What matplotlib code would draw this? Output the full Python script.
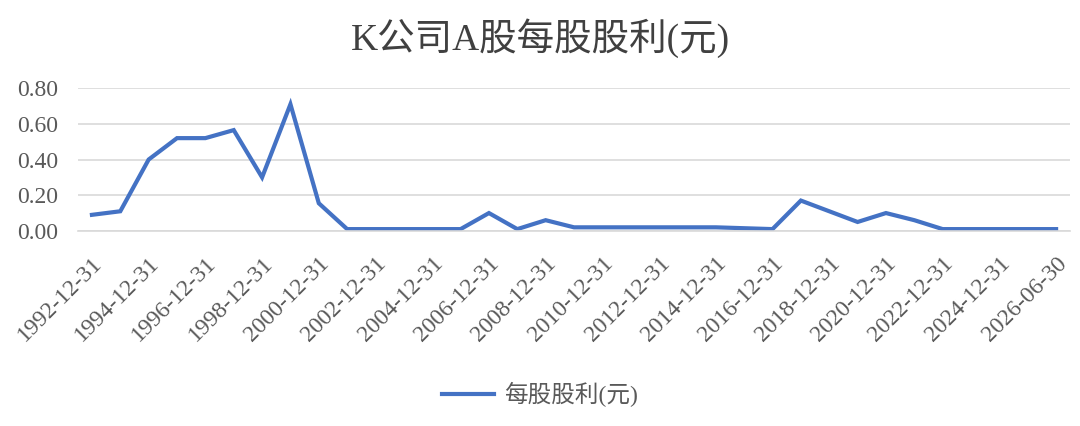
import matplotlib.pyplot as plt
import numpy as np

plt.rcParams['font.family'] = ['Liberation Serif', 'Noto Sans CJK SC']

# 1992-12-31 .. 2025-12-31 yearly, then 2026-06-30
dates = ['%d-12-31' % y for y in range(1992, 2026)] + ['2026-06-30']
dps = [0.09, 0.11, 0.40, 0.52, 0.52, 0.565, 0.30, 0.71, 0.155, 0.01,
       0.01, 0.01, 0.01, 0.01, 0.10, 0.01, 0.06, 0.02, 0.02, 0.02,
       0.02, 0.02, 0.02, 0.015, 0.01, 0.17, 0.11, 0.05, 0.10, 0.06,
       0.01, 0.01, 0.01, 0.01, 0.01]
title = 'K公司A股每股股利(元)'
series_name = '每股股利(元)'

fig = plt.figure(figsize=(10.8, 4.26), dpi=100)
ax = fig.add_axes([0.072, 0.458, 0.919, 0.335])

x = np.arange(len(dates))
ax.plot(x, dps, color='#4472C4', lw=3, solid_joinstyle='miter', label=series_name)

ax.set_xlim(-0.5, len(dates) - 0.5)
ax.set_ylim(0, 0.8)
ax.set_yticks(np.arange(0, 0.81, 0.2))
ax.set_yticklabels(['%.2f' % v for v in np.arange(0, 0.81, 0.2)])
ax.yaxis.grid(True, color='#d9d9d9', lw=1.2)
ax.set_axisbelow(True)
for s in ['top', 'right', 'left']:
    ax.spines[s].set_visible(False)
ax.spines['bottom'].set_color('#d9d9d9')
ax.spines['bottom'].set_linewidth(1.2)

ax.set_xticks(x[::2])
ax.set_xticklabels(dates[::2], rotation=45, ha='right', rotation_mode='anchor')
ax.tick_params(axis='both', length=0, colors='#595959', labelsize=17)
ax.tick_params(axis='x', pad=16)
ax.tick_params(axis='y', pad=14)

fig.text(0.5, 0.911, title, ha='center', va='center', fontsize=27, color='#404040')

fig.legend(loc='center', bbox_to_anchor=(0.5, 0.073), frameon=False,
           fontsize=17, labelcolor='#595959', handlelength=2.2, handletextpad=0.4)

fig.savefig('out.png')
